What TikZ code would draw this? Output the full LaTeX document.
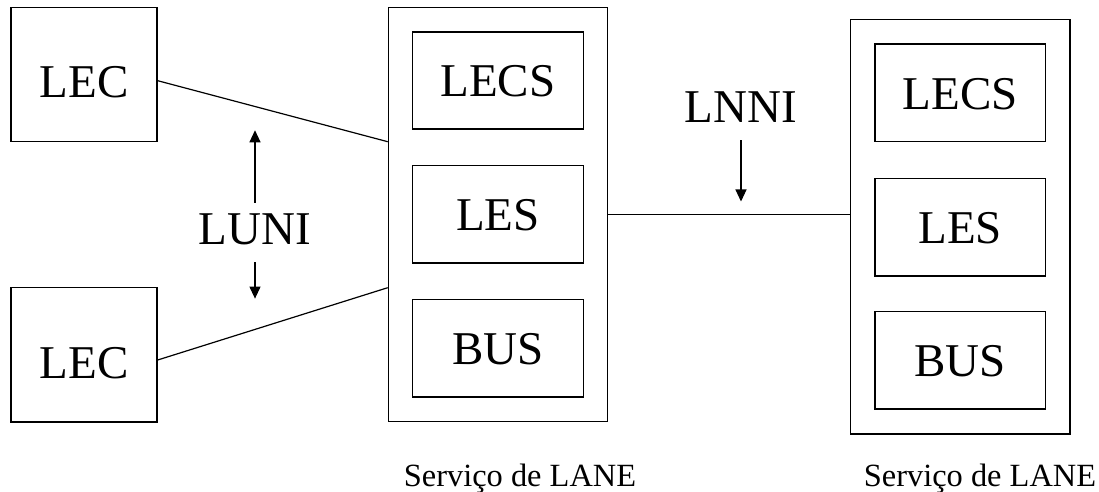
\documentclass[tikz,border=0pt]{standalone}
\usepackage{fontspec}
\setmainfont{Liberation Serif}
\usetikzlibrary{arrows.meta}

\begin{document}
\begin{tikzpicture}[x=0.5pt, y=-0.5pt,
    bigtext/.style={font=\fontsize{23.5}{28}\selectfont},
    box/.style={draw, line width=0.7pt, inner sep=0pt, bigtext},
    lecbox/.style={box, minimum width=73pt, minimum height=67.1pt, text height=23.5pt, text depth=0pt},
    lanebox/.style={draw, line width=0.7pt, minimum width=109.6pt, minimum height=207.1pt},
    srvbox/.style={box, minimum width=85.4pt, minimum height=48.65pt, text height=16.5pt, text depth=0pt},
    iface/.style={bigtext, inner sep=0pt},
    lanecap/.style={font=\fontsize{16.2}{19}\selectfont, anchor=base},
    link/.style={line width=0.6pt},
    arr/.style={line width=0.55pt, -{Triangle[length=6pt, width=5.5pt]}}]
          \useasboundingbox (0, 0) rectangle (1099, 492);

          \node [lecbox] (lec1) at (84, 74.5) {LEC};
          \node [lecbox] (lec2) at (84, 354.7) {LEC};

          \node [lanebox] (lane1) at (498, 214.5) {};
          \node [srvbox] (lecs1) at (498, 80.5) {LECS};
          \node [srvbox] (les1) at (498, 214.3) {LES};
          \node [srvbox] (bus1) at (498, 348.3) {BUS};

          \node [lanebox] (lane2) at (960.3, 226.8) {};
          \node [srvbox] (lecs2) at (960.3, 92.7) {LECS};
          \node [srvbox] (les2) at (960.3, 227.3) {LES};
          \node [srvbox] (bus2) at (960.3, 360.3) {BUS};

          \node [lanecap] (cap1) at (520, 486.7) {Serviço de LANE};
          \node [lanecap] (cap2) at (980, 486.7) {Serviço de LANE};

          \draw [link] ([yshift=-3.1pt]lec1.east) -- ([yshift=36.4pt]lane1.west);
          \draw [link] ([yshift=-2.65pt]lec2.east) -- ([yshift=-36.6pt]lane1.west);
          \draw [link] (les1 -| lane1.east) -- (les1 -| lane2.west);

          \node [iface] (luni) at (255, 229) {LUNI};
          \draw [arr] ([yshift=5pt]luni.north) -- ++(0, -72.7);
          \draw [arr] ([yshift=-8.5pt]luni.south) -- ++(0, 36.6);

          \node [iface] (lnni) at (741, 107) {LNNI};
          \draw [arr] ([yshift=-8.85pt]lnni.south) -- ++(0, 61);
        \end{tikzpicture}
\end{document}
